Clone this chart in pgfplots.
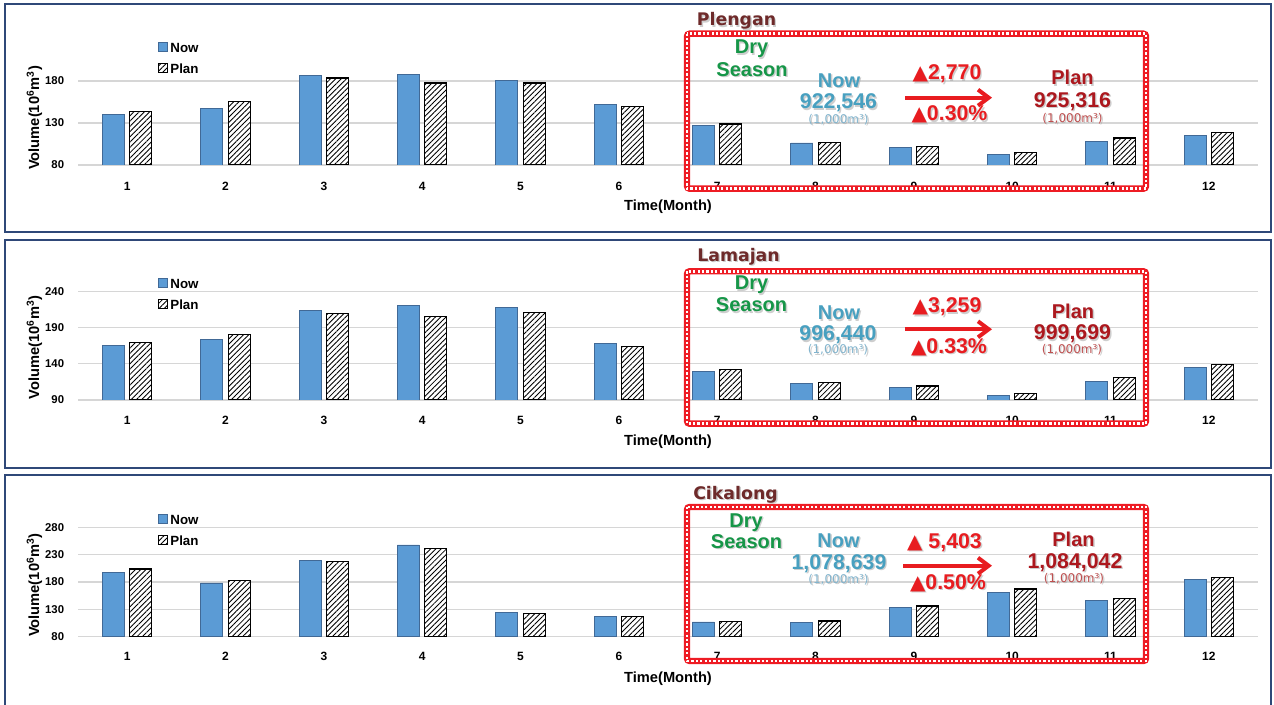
\documentclass[border=0pt]{standalone}
\usepackage{fontspec}
\setmainfont{Liberation Sans}
\newfontfamily\dvs{DejaVu Sans}
\usepackage{pgfplots}
\pgfplotsset{compat=1.18}
\usetikzlibrary{patterns.meta,arrows.meta}

\definecolor{nowfill}{RGB}{91,155,213}
\definecolor{nowedge}{RGB}{65,105,150}
\definecolor{cFrame}{RGB}{47,72,120}
\definecolor{cBox}{RGB}{238,28,36}
\definecolor{cTtl}{RGB}{110,42,42}
\definecolor{cDry}{RGB}{22,150,72}
\definecolor{cNow}{RGB}{72,160,192}
\definecolor{cNowU}{RGB}{130,180,205}
\definecolor{cUp}{RGB}{232,28,32}
\definecolor{cPlan}{RGB}{172,24,30}
\definecolor{cPlanU}{RGB}{190,80,80}

\pgfplotsset{
  panel/.style={
    scale only axis, width=885pt, anchor=south west,
    xmin=0.5, xmax=12.5, xtick={1,...,12},
    ybar, bar width=16.5pt,
    axis line style={draw=none}, major tick length=0pt,
    ymajorgrids, grid style={draw=black!16, line width=0.8pt},
    /pgf/number format/assume math mode=true,
    xticklabel style={font=\bfseries\fontsize{9}{10}\selectfont},
    yticklabel style={font=\bfseries\fontsize{8.5}{10}\selectfont, xshift=-6.9pt},
    xlabel={Time(Month)},
    ylabel={Volume(10\textsuperscript{6}m\textsuperscript{3})},
    label style={font=\bfseries\fontsize{11}{12}\selectfont},
    xlabel style={at={(axis description cs:0.5,0)}, anchor=center, yshift=-31.3pt},
    legend style={draw=none, fill=none, anchor=north west, inner sep=0pt,
      row sep=5.55pt, font=\bfseries\fontsize{10}{11}\selectfont,
      nodes={inner sep=1.5pt, text height=7.2pt, text depth=0pt}},
    legend cell align=left,
    legend image code/.code={\draw[##1] (0pt,-3.4pt) rectangle (6.8pt,3.4pt);},
  },
  nowbar/.style={fill=nowfill, draw=nowedge, line width=0.6pt, bar shift=-10.3pt},
  planbar/.style={fill=white, draw=black, line width=0.8pt, bar shift=10.3pt,
    postaction={pattern={Lines[angle=45,distance=2.8pt,line width=0.65pt]}, pattern color=black}},
}

\tikzset{
  a-ttl/.style={font=\dvs\bfseries\fontsize{13}{13}\selectfont, text=cTtl},
  a-dry/.style={font=\bfseries\fontsize{15}{15}\selectfont, text=cDry},
  a-now/.style={font=\bfseries\fontsize{15}{15}\selectfont, text=cNow},
  a-nnum/.style={font=\bfseries\fontsize{16}{16}\selectfont, text=cNow},
  a-nu/.style={font=\dvs\fontsize{9}{9}\selectfont, text=cNowU},
  a-up/.style={font=\bfseries\fontsize{16}{16}\selectfont, text=cUp},
  a-pl/.style={font=\bfseries\fontsize{15}{15}\selectfont, text=cPlan},
  a-pnum/.style={font=\bfseries\fontsize{16}{16}\selectfont, text=cPlan},
  a-pu/.style={font=\dvs\fontsize{9}{9}\selectfont, text=cPlanU},
}

% positions for the overlays are pixels of the reference (y downwards), 1px = 0.75pt
\newcommand{\wa}[4][]{%
  \node[anchor=base, inner sep=0pt, #1, text=black!35, opacity=0.55] at ({(#2+1.4)*0.75pt},{-(#3+1.4)*0.75pt}) {#4};
  \node[anchor=base, inner sep=0pt, #1] at ({#2*0.75pt},{-#3*0.75pt}) {#4};}
\newcommand{\tri}{{\dvs\bfseries\fontsize{15}{15}\selectfont ▲}}
\newcommand{\dbox}[4]{%
  \draw[cBox, line width=4.8pt, rounded corners=2pt] ({#1*0.75pt},{-#2*0.75pt}) rectangle ({#3*0.75pt},{-#4*0.75pt});
  \draw[white, line width=1.9pt, dash pattern=on 1.7pt off 1.6pt] ({#1*0.75pt},{-#2*0.75pt}) rectangle ({#3*0.75pt},{-#4*0.75pt});}
\newcommand{\arr}[3]{%
  \draw[cUp, line width=3pt, -{Straight Barb[length=8pt,width=12pt]}] ({#1*0.75pt},{-#3*0.75pt}) -- ({#2*0.75pt},{-#3*0.75pt});}

\begin{document}
\begin{tikzpicture}

% panel frames
\draw[cFrame, line width=1.5pt] (3.75pt,-3.375pt) rectangle (952.875pt,-174.375pt);
\draw[cFrame, line width=1.5pt] (3.75pt,-180.375pt) rectangle (952.875pt,-351.225pt);
\draw[cFrame, line width=1.5pt] (3.75pt,-356.625pt) rectangle (952.875pt,-534pt);

% ---------- Plengan ----------
\begin{axis}[panel, at={(58.5pt,-123.75pt)}, height=91.35pt,
  ymin=80, ymax=225, ytick={80,130,180},
  xticklabel style={yshift=-9.4pt},
  ylabel style={at={(axis description cs:-0.0369,0.386)}, anchor=center},
  legend style={at={(axis description cs:0.0678,1.025)}}]
\addplot[nowbar] coordinates {(1,140.7)(2,147.5)(3,186.8)(4,188.3)(5,180.8)(6,152.6)(7,126.8)(8,106.2)(9,101.4)(10,92.7)(11,107.8)(12,115.3)};
\addlegendentry{Now}
\addplot[planbar] coordinates {(1,144.0)(2,155.4)(3,183.6)(4,177.6)(5,177.6)(6,149.8)(7,128.8)(8,107.0)(9,102.2)(10,95.1)(11,112.1)(12,118.5)};
\addlegendentry{Plan}
\end{axis}

% ---------- Lamajan ----------
\begin{axis}[panel, at={(58.5pt,-300pt)}, height=86.64pt,
  ymin=90, ymax=250, ytick={90,140,190,240},
  xticklabel style={yshift=-8.7pt},
  ylabel style={at={(axis description cs:-0.0369,0.454)}, anchor=center},
  legend style={at={(axis description cs:0.0678,1.072)}}]
\addplot[nowbar] coordinates {(1,165.5)(2,173.3)(3,214.5)(4,221.0)(5,217.8)(6,167.8)(7,129.8)(8,113.1)(9,107.1)(10,96.0)(11,116.0)(12,135.4)};
\addlegendentry{Now}
\addplot[planbar] coordinates {(1,169.6)(2,181.2)(3,209.9)(4,205.3)(5,210.8)(6,163.6)(7,131.7)(8,114.0)(9,109.4)(10,99.3)(11,120.6)(12,139.5)};
\addlegendentry{Plan}
\end{axis}

% ---------- Cikalong ----------
\begin{axis}[panel, at={(58.5pt,-477.525pt)}, height=86.15pt,
  ymin=80, ymax=290, ytick={80,130,180,230,280},
  xticklabel style={yshift=-8.4pt},
  ylabel style={at={(axis description cs:-0.0369,0.45)}, anchor=center},
  legend style={at={(axis description cs:0.0678,1.084)}}]
\addplot[nowbar] coordinates {(1,197.7)(2,178.2)(3,220.2)(4,247.7)(5,123.9)(6,117.2)(7,106.9)(8,105.6)(9,133.0)(10,161.2)(11,145.8)(12,184.9)};
\addlegendentry{Now}
\addplot[planbar] coordinates {(1,203.8)(2,182.4)(3,217.0)(4,241.6)(5,122.7)(6,117.2)(7,107.4)(8,108.7)(9,136.1)(10,167.2)(11,150.2)(12,188.5)};
\addlegendentry{Plan}
\end{axis}

% ---------- dry season annotations ----------
\dbox{687}{33.7}{1146}{188.7}
\wa[a-ttl]{736.5}{26}{Plengan}
\wa[a-dry]{751.5}{54}{Dry}
\wa[a-dry]{752}{76.5}{Season}
\wa[a-now]{839}{87.3}{Now}
\wa[a-nnum]{838.5}{109}{922,546}
\wa[a-nu]{838.5}{123.5}{(1,000m³)}
\wa[a-up]{947}{80}{\tri2,770}
\arr{905}{992}{97.7}
\wa[a-up]{949.5}{120.7}{\tri0.30\%}
\wa[a-pl]{1072.5}{85}{Plan}
\wa[a-pnum]{1072.5}{107.3}{925,316}
\wa[a-pu]{1072.5}{122.5}{(1,000m³)}

\dbox{687}{271.3}{1146}{423.7}
\wa[a-ttl]{738.5}{261.5}{Lamajan}
\wa[a-dry]{751.5}{290}{Dry}
\wa[a-dry]{751.5}{311.7}{Season}
\wa[a-now]{839}{320}{Now}
\wa[a-nnum]{838}{341}{996,440}
\wa[a-nu]{838}{354}{(1,000m³)}
\wa[a-up]{947}{312.7}{\tri3,259}
\arr{905}{992}{329.3}
\wa[a-up]{949}{353.3}{\tri0.33\%}
\wa[a-pl]{1073}{318.3}{Plan}
\wa[a-pnum]{1072.5}{340}{999,699}
\wa[a-pu]{1072}{353.5}{(1,000m³)}

\dbox{687}{507}{1146}{661}
\wa[a-ttl]{735.5}{499}{Cikalong}
\wa[a-dry]{746}{527.3}{Dry}
\wa[a-dry]{746.5}{548.3}{Season}
\wa[a-now]{838.5}{547.3}{Now}
\wa[a-nnum]{839}{569}{1,078,639}
\wa[a-nu]{838.5}{583}{(1,000m³)}
\wa[a-up]{944.5}{548.3}{\tri\ 5,403}
\arr{903}{992}{565.7}
\wa[a-up]{948}{589.3}{\tri0.50\%}
\wa[a-pl]{1073.5}{546}{Plan}
\wa[a-pnum]{1075}{568.3}{1,084,042}
\wa[a-pu]{1074}{582}{(1,000m³)}

\pgfresetboundingbox
\path[use as bounding box] (0pt,0pt) rectangle (955.5pt,-528.75pt);
\end{tikzpicture}
\end{document}
